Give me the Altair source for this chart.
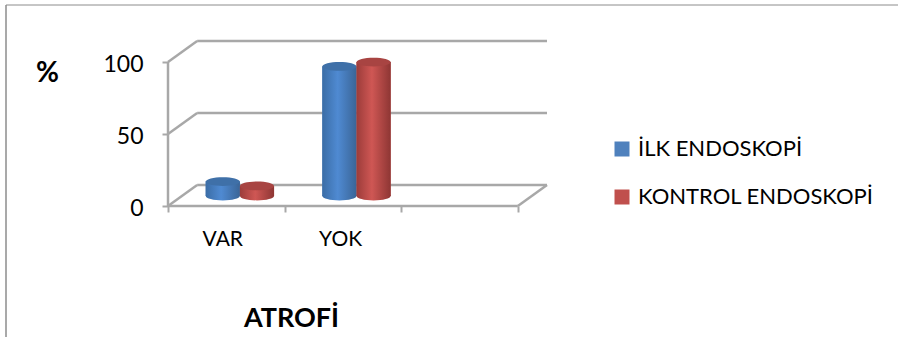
import altair as alt
import pandas as pd

# Values per category and examination
categories = ["VAR", "YOK"]
series_names = ["İLK ENDOSKOPİ", "KONTROL ENDOSKOPİ"]
ilk_values = [10, 90]
kontrol_values = [7, 93]
legend_colors = ["#4f81bd", "#c0504d"]
top_colors = ["#3f70a8", "#a84442"]

AXIS_GREY = "#a8a8a8"
FRAME_GREY = "#8c8c8c"
FONT = "Lato"

# Scale units: one category slot across, percent upward
PX_X = 116.0
PX_Y = 1.44
DEPTH_X = 29 / PX_X
DEPTH_Y = 21 / PX_Y
X_MAX = 3 + DEPTH_X
Y_MAX = 100 + DEPTH_Y
BAR_W = 34 / PX_X
MID_X = 13.5 / PX_X
MID_Y = 10 / PX_Y

x_scale = alt.Scale(domain=[0, X_MAX], nice=False, zero=False)
y_scale = alt.Scale(domain=[0, Y_MAX], nice=False, zero=False)


def gradient(left, mid, right):
    return alt.LinearGradient(
        gradient="linear", x1=0, x2=1, y1=0, y2=0,
        stops=[
            alt.GradientStop(offset=0, color=left),
            alt.GradientStop(offset=0.45, color=mid),
            alt.GradientStop(offset=1, color=right),
        ],
    )


fills = [gradient("#3b6da6", "#4f8ad2", "#3a6597"),
         gradient("#9c3c3a", "#cf5754", "#8e3634")]

rows = []
for s, values in enumerate([ilk_values, kontrol_values]):
    for c, v in enumerate(values):
        left = c + 0.5 + MID_X - BAR_W + s * BAR_W
        rows.append({"series": series_names[s], "s": s, "left": left,
                     "right": left + BAR_W, "centre": left + BAR_W / 2,
                     "base": MID_Y, "top": MID_Y + v, "value": v})
bars = pd.DataFrame(rows)

# Back wall, side wall and floor edges of the box
segments = []
for level in [0, 50, 100]:
    segments.append({"x": DEPTH_X, "x2": X_MAX, "y": level + DEPTH_Y, "y2": level + DEPTH_Y})
    segments.append({"x": 0, "x2": DEPTH_X, "y": level, "y2": level + DEPTH_Y})
segments.append({"x": 3, "x2": X_MAX, "y": 0, "y2": DEPTH_Y})
segments.append({"x": 0, "x2": 3, "y": 0, "y2": 0})
segments.append({"x": 0, "x2": 0, "y": 0, "y2": 100})
segments = pd.DataFrame(segments)

X = lambda f: alt.X(f, type="quantitative", scale=x_scale, axis=None)
Y = lambda f: alt.Y(f, type="quantitative", scale=y_scale, axis=None)

# Real axes carry ticks, numbers and the two titles
axes = alt.Chart(pd.DataFrame({"x": [0, 3], "y": [0, 100]})).mark_point(opacity=0).encode(
    x=alt.X("x:Q", scale=x_scale, axis=alt.Axis(
        values=[0, 1, 2, 3], labels=False, domain=False, grid=False,
        tickColor=AXIS_GREY, tickWidth=2, tickSize=6,
        title="ATROFİ", titleFont=FONT, titleFontSize=27, titleFontWeight="bold",
        titleColor="#000000", titleX=123, titleY=112, titleAlign="center",
        titleBaseline="middle")),
    y=alt.Y("y:Q", scale=y_scale, axis=alt.Axis(
        values=[0, 50, 100], domain=False, grid=False,
        tickColor=AXIS_GREY, tickWidth=2, tickSize=6,
        labelFont=FONT, labelFontSize=23, labelColor="#000000", labelPadding=19,
        labelOffset=2,
        title="%", titleFont=FONT, titleFontSize=28, titleFontWeight="bold",
        titleColor="#000000", titleAngle=0, titleX=-121, titleY=32,
        titleAlign="center", titleBaseline="middle")),
)

box = alt.Chart(segments).mark_rule(color=AXIS_GREY, strokeWidth=2.5).encode(
    x=X("x"), x2="x2", y=Y("y"), y2="y2")

# Flat bars provide the legend; shaded cylinder parts are drawn on top of them
legend_bars = alt.Chart(bars).mark_rect().encode(
    x=X("left"), x2="right", y=Y("base"), y2="top",
    color=alt.Color("series:N", scale=alt.Scale(domain=series_names, range=legend_colors),
                    legend=alt.Legend(
                        title=None, orient="none", legendX=443, legendY=97,
                        symbolType="square", symbolSize=225, symbolStrokeWidth=0,
                        labelFont=FONT, labelFontSize=22, labelColor="#000000",
                        labelOffset=5, rowPadding=26,
                        labelLimit=320)),
)

ELLIPSE = "M-1,0 A1,0.26 0 1,1 1,0 A1,0.26 0 1,1 -1,0 Z"
ELLIPSE_SIZE = 1156

layers = [box, axes, legend_bars]
for s in [0, 1]:
    part = bars[bars["s"] == s]
    base = alt.Chart(part)
    layers.append(base.mark_point(shape=ELLIPSE, size=ELLIPSE_SIZE, filled=True,
                                  fill=fills[s], stroke=None, opacity=1)
                  .encode(x=X("centre"), y=Y("base")))
    layers.append(base.mark_rect(fill=fills[s]).encode(
        x=X("left"), x2="right", y=Y("base"), y2="top"))
    layers.append(base.mark_point(shape=ELLIPSE, size=ELLIPSE_SIZE, filled=True,
                                  fill=top_colors[s], stroke=None, opacity=1)
                  .encode(x=X("centre"), y=Y("top")))

labels = alt.Chart(pd.DataFrame({"name": categories, "slot": [0.47, 1.48]})).mark_text(
    font=FONT, fontSize=21, color="#000000", baseline="middle", align="center"
).encode(x=X("slot"), y=alt.value(199), text="name:N")
layers.append(labels)

# Outer frame along the top and the left edge
frame_top = alt.Chart(pd.DataFrame({"a": [0]})).mark_rule(color=FRAME_GREY, strokeWidth=1).encode(
    x=alt.value(-162), x2=alt.value(730), y=alt.value(-36))
frame_left = alt.Chart(pd.DataFrame({"a": [0]})).mark_rule(color=FRAME_GREY, strokeWidth=1.5).encode(
    x=alt.value(-162), y=alt.value(-36), y2=alt.value(296))
layers += [frame_top, frame_left]

chart = alt.layer(*layers).resolve_axis(x="independent", y="independent").properties(
    width=379, height=165,
    padding={"left": 168, "top": 41, "right": 351, "bottom": 131},
    autosize=alt.AutoSizeParams(type="none"),
    background="#ffffff",
).configure_view(stroke=None)

chart.save("out.html", embed_options={"renderer": "svg", "actions": False})
